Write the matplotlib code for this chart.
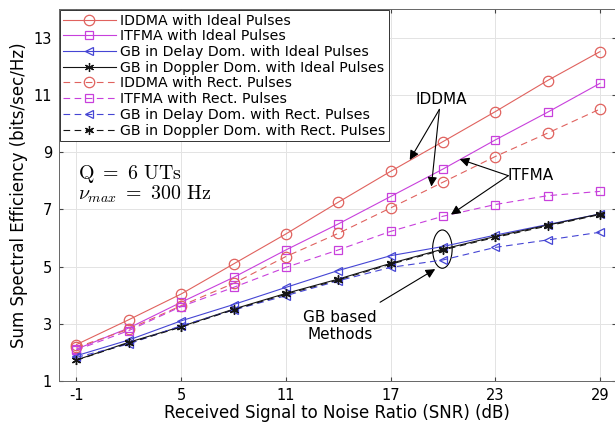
#################################################
#     Libraries
#################################################
import matplotlib
matplotlib.use( "Agg" )
import matplotlib.pyplot as plt
from matplotlib.patches import Ellipse

#################################################
#     Data
#################################################
snr = [ -1, 2, 5, 8, 11, 14, 17, 20, 23, 26, 29 ]

iddma_ideal = [ 2.27, 3.14, 4.04, 5.09, 6.14, 7.25, 8.33, 9.37, 10.42, 11.51, 12.52 ]
itfma_ideal = [ 2.11, 2.85, 3.75, 4.62, 5.58, 6.49, 7.45, 8.41, 9.43, 10.40, 11.41 ]
gb_delay_ideal = [ 1.88, 2.43, 3.10, 3.67, 4.27, 4.86, 5.38, 5.70, 6.10, 6.47, 6.84 ]
gb_doppler_ideal = [ 1.73, 2.35, 2.90, 3.51, 4.06, 4.56, 5.11, 5.61, 6.05, 6.45, 6.84 ]

iddma_rect = [ 2.17, 2.81, 3.63, 4.41, 5.35, 6.16, 7.05, 7.95, 8.85, 9.67, 10.51 ]
itfma_rect = [ 2.08, 2.76, 3.60, 4.27, 4.97, 5.58, 6.23, 6.76, 7.17, 7.48, 7.63 ]
gb_delay_rect = [ 1.82, 2.29, 2.93, 3.48, 3.98, 4.50, 4.97, 5.23, 5.67, 5.93, 6.20 ]
gb_doppler_rect = [ 1.72, 2.33, 2.88, 3.49, 4.03, 4.53, 5.08, 5.58, 6.02, 6.42, 6.82 ]

x_ticks = [ -1, 5, 11, 17, 23, 29 ]
y_ticks = [ 1, 3, 5, 7, 9, 11, 13 ]

#################################################
#     Style
#################################################
plt.rcParams[ "font.family" ] = [ "DejaVu Sans" ]
plt.rcParams[ "mathtext.fontset" ] = "cm"
plt.rcParams[ "axes.unicode_minus" ] = False

red = "#e0625e"
magenta = "#c840dc"
blue = "#4545d4"
black = "#151515"
dashed = ( 0, ( 6, 4 ) )

#################################################
#     Plot
#################################################
fig = plt.figure( figsize = ( 6.15, 4.26 ), dpi = 100 )
ax = fig.add_axes( [ 0.096, 0.106, 0.905, 0.872 ] )

series = [
    ( iddma_ideal, red, "o", "-", 7.5, "IDDMA with Ideal Pulses" ),
    ( itfma_ideal, magenta, "s", "-", 5.2, "ITFMA with Ideal Pulses" ),
    ( gb_delay_ideal, blue, "<", "-", 6.2, "GB in Delay Dom. with Ideal Pulses" ),
    ( gb_doppler_ideal, black, ( 6, 2, 0 ), "-", 6.5, "GB in Doppler Dom. with Ideal Pulses" ),
    ( iddma_rect, red, "o", dashed, 7.5, "IDDMA with Rect. Pulses" ),
    ( itfma_rect, magenta, "s", dashed, 5.2, "ITFMA with Rect. Pulses" ),
    ( gb_delay_rect, blue, "<", dashed, 6.2, "GB in Delay Dom. with Rect. Pulses" ),
    ( gb_doppler_rect, black, ( 6, 2, 0 ), dashed, 6.5, "GB in Doppler Dom. with Rect. Pulses" ),
]

for values, color, marker, style, size, label in series:
    ax.plot( snr, values, color = color, linestyle = style, linewidth = 0.8,
             marker = marker, markersize = size, markerfacecolor = "none",
             markeredgecolor = color, markeredgewidth = 0.9, label = label )

ax.set_xlim( -2, 29.9 )
ax.set_ylim( 1, 14 )
ax.set_xticks( x_ticks )
ax.set_yticks( y_ticks )
ax.tick_params( labelsize = 10.5, direction = "in", length = 3, color = "#444444",
                top = True, right = True, pad = 5 )
ax.grid( True, color = "#e3e3e3", linewidth = 0.7 )
ax.set_axisbelow( True )
for spine in ax.spines.values():
    spine.set_color( "#666666" )
    spine.set_linewidth( 0.7 )

ax.set_xlabel( "Received Signal to Noise Ratio (SNR) (dB)", fontsize = 12, labelpad = 1 )
ax.set_ylabel( "Sum Spectral Efficiency (bits/sec/Hz)", fontsize = 12, labelpad = 4 )

leg = ax.legend( loc = "upper left", fontsize = 10.2, borderaxespad = 0.05, fancybox = False,
                 labelspacing = 0.12, handlelength = 3.7, handletextpad = 0.3,
                 borderpad = 0.25, edgecolor = "#333333", framealpha = 1 )
leg.get_frame().set_linewidth( 0.7 )

# Scenario text
ax.text( -0.9, 8.24, r"$\mathrm{Q}\ =\ 6\ \mathrm{UTs}$", fontsize = 14.3, va = "center" )
ax.text( -0.9, 7.54, r"$\nu_{max}\ =\ 300\ \mathrm{Hz}$", fontsize = 14.3, va = "center" )

# Annotations
arrow = dict( arrowstyle = "-|>", color = "k", lw = 0.8, mutation_scale = 14, shrinkA = 0, shrinkB = 0 )
ax.text( 19.9, 10.85, "IDDMA", fontsize = 11, ha = "center", va = "center" )
ax.annotate( "", xy = ( 18.1, 8.73 ), xytext = ( 19.8, 10.5 ), arrowprops = arrow )
ax.annotate( "", xy = ( 19.34, 7.80 ), xytext = ( 19.8, 10.5 ), arrowprops = arrow )

ax.text( 23.7, 8.18, "ITFMA", fontsize = 11, ha = "left", va = "center" )
ax.annotate( "", xy = ( 20.96, 8.76 ), xytext = ( 23.75, 8.18 ), arrowprops = arrow )
ax.annotate( "", xy = ( 20.46, 6.82 ), xytext = ( 23.75, 8.18 ), arrowprops = arrow )

ax.text( 14.12, 2.93, "GB based\nMethods", fontsize = 11, ha = "center", va = "center", linespacing = 1.15 )
ax.annotate( "", xy = ( 19.56, 4.91 ), xytext = ( 16.4, 3.75 ), arrowprops = arrow )
ax.add_patch( Ellipse( ( 19.97, 5.61 ), 1.12, 1.34, fill = False, edgecolor = "k", linewidth = 0.8 ) )

fig.savefig( "out.png", dpi = 100 )
